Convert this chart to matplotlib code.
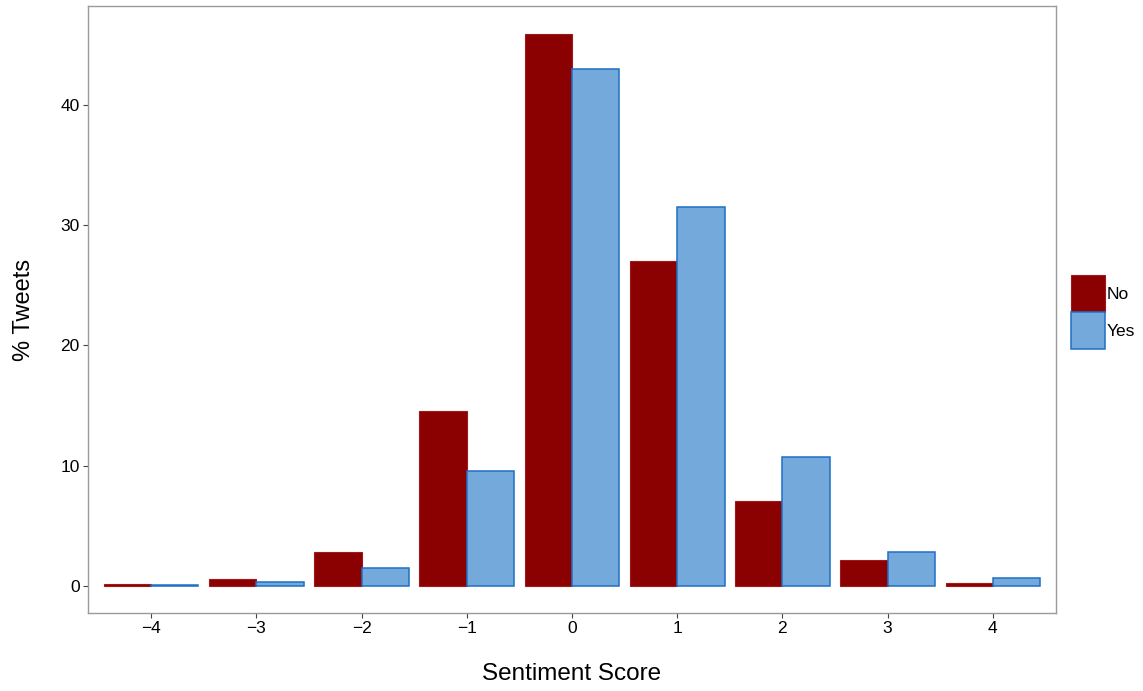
import matplotlib
matplotlib.use("Agg")
import matplotlib.pyplot as plt
import numpy as np
from matplotlib.patches import Patch

plt.rcParams["font.family"] = ["Liberation Sans", "DejaVu Sans"]

scores = [-4, -3, -2, -1, 0, 1, 2, 3, 4]
score_labels = ["\u22124", "\u22123", "\u22122", "\u22121", "0", "1", "2", "3", "4"]
no_vals = [0.15, 0.58, 2.8, 14.5, 45.9, 27.0, 7.07, 2.13, 0.22]
yes_vals = [0.05, 0.36, 1.47, 9.56, 43.0, 31.5, 10.7, 2.85, 0.69]

no_fill = "#8B0000"
no_edge = "#A01818"
yes_fill = "#74AADB"
yes_edge = "#1F6FC5"

fig = plt.figure(figsize=(11.43, 6.91), dpi=100)
ax = fig.add_axes([88 / 1143, 78 / 691, 968 / 1143, 607 / 691])

x = np.arange(len(scores))
w = 0.45
ax.bar(x - w / 2, no_vals, width=w, color=no_fill, edgecolor=no_edge, linewidth=0.8)
ax.bar(x + w / 2, yes_vals, width=w, color=yes_fill, edgecolor=yes_edge, linewidth=1.1)

ax.set_xlim(-0.6, len(scores) - 0.4)
ax.set_ylim(-2.25, 48.2)
ax.set_xticks(x)
ax.set_xticklabels(score_labels)
ax.set_yticks([0, 10, 20, 30, 40])

for s in ax.spines.values():
    s.set_color("#9a9a9a")
    s.set_linewidth(1.0)
ax.tick_params(axis="both", colors="#444444", length=3.5, width=0.8, labelsize=12.5,
               labelcolor="black", pad=2.5)

ax.set_xlabel("Sentiment Score", fontsize=17.5, labelpad=19)
ax.set_ylabel("% Tweets", fontsize=17, labelpad=18)

handles = [Patch(facecolor=no_fill, edgecolor=no_edge, linewidth=0.8, label="No"),
           Patch(facecolor=yes_fill, edgecolor=yes_edge, linewidth=1.1, label="Yes")]
fig.legend(handles=handles, loc="center left", bbox_to_anchor=(1071 / 1143, 0.548),
           frameon=False, fontsize=12.5, handlelength=1.97, handleheight=2.9,
           handletextpad=0.1, labelspacing=0.0, borderpad=0.0, borderaxespad=0.0)

fig.savefig("out.png", dpi=100)
